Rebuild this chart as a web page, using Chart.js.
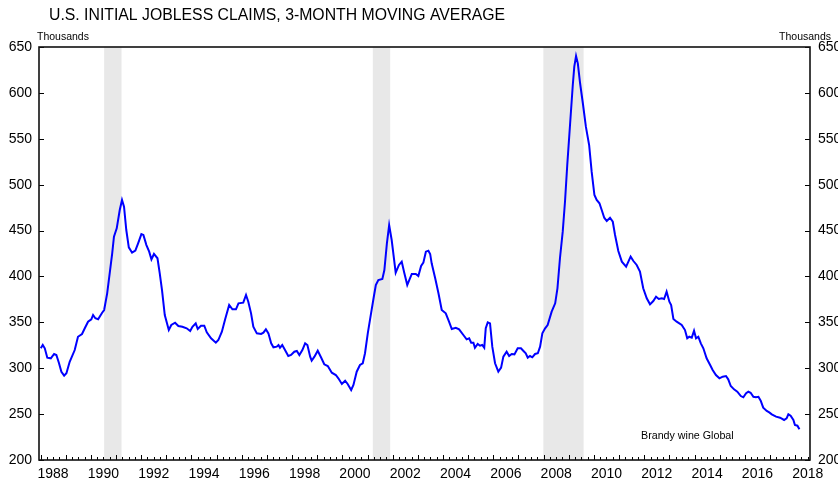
<!DOCTYPE html>
<html>
<head>
<meta charset="utf-8">
<script src="https://cdn.jsdelivr.net/npm/chart.js@4.4.0/dist/chart.umd.min.js"></script>
<style>
  html, body { margin: 0; padding: 0; background: #fff; }
  canvas { display: block; }
</style>
</head>
<body>
<canvas id="claimsChart" width="838" height="483"></canvas>
<script>
// 3-month moving average of initial claims, thousands (decimal year, value)
var dates = [
  1988.01,1988.09,1988.17,1988.27,1988.41,1988.54,1988.63,1988.73,1988.83,1988.94,1989.03,1989.16,1989.36,1989.49,1989.65,1989.76,1989.89,1990.02,1990.09,1990.18,1990.29,1990.45,1990.53,1990.65,1990.75,1990.85,1990.92,1991.03,1991.15,1991.24,1991.32,1991.41,1991.51,1991.64,1991.77,1991.88,1992.01,1992.09,1992.21,1992.32,1992.41,1992.51,1992.65,1992.74,1992.83,1992.94,1993.10,1993.20,
  1993.35,1993.48,1993.64,1993.81,1993.95,1994.04,1994.17,1994.25,1994.38,1994.51,1994.61,1994.78,1994.97,1995.07,1995.21,1995.34,1995.50,1995.63,1995.77,1995.87,1996.06,1996.17,1996.26,1996.37,1996.46,1996.60,1996.77,1996.86,1996.96,1997.06,1997.17,1997.26,1997.39,1997.46,1997.52,1997.61,1997.72,1997.85,1997.96,1998.09,1998.19,1998.29,
  1998.41,1998.52,1998.61,1998.72,1998.78,1998.89,1999.02,1999.15,1999.28,1999.42,1999.58,1999.74,1999.84,1999.98,2000.11,2000.21,2000.35,2000.44,2000.57,2000.70,2000.81,2000.90,2001.01,2001.14,2001.25,2001.33,2001.43,2001.59,2001.67,2001.77,2001.86,2001.96,2002.12,2002.25,2002.36,2002.46,2002.58,2002.76,2002.92,2003.02,2003.13,2003.22,2003.32,2003.42,2003.49,
  2003.55,2003.69,2003.82,2003.95,2004.11,2004.24,2004.35,2004.51,2004.64,2004.81,2004.94,2005.04,2005.12,2005.21,2005.27,2005.38,2005.47,2005.56,2005.64,2005.70,2005.78,2005.87,2005.96,2006.07,2006.20,2006.31,2006.40,2006.53,2006.63,2006.73,2006.84,2006.97,2007.10,2007.19,2007.29,2007.37,2007.46,2007.55,2007.66,2007.77,2007.86,2007.95,2008.06,2008.16,
  2008.32,2008.46,2008.55,2008.65,2008.76,2008.85,2008.94,2009.05,2009.16,2009.22,2009.29,2009.36,2009.45,2009.56,2009.68,2009.81,2009.91,2010.02,2010.11,2010.22,2010.31,2010.41,2010.51,2010.64,2010.75,2010.84,2010.97,2011.11,2011.28,2011.37,2011.46,2011.57,2011.70,2011.83,2011.96,2012.10,2012.23,2012.36,2012.47,2012.58,2012.70,2012.79,2012.89,2013.00,2013.07,2013.16,
  2013.29,2013.49,2013.62,2013.71,2013.79,2013.89,2013.98,2014.06,2014.15,2014.25,2014.35,2014.48,2014.62,2014.72,2014.85,2014.99,2015.12,2015.25,2015.34,2015.44,2015.57,2015.70,2015.84,2015.94,2016.05,2016.14,2016.23,2016.34,2016.44,2016.54,2016.63,2016.73,2016.87,2016.97,2017.07,2017.24,2017.40,2017.56,2017.66,2017.73,2017.82,2017.93,2017.99,2018.09,2018.17
];
var claims = [
  321.7,325.3,321.7,311.5,310.8,315.5,314.4,306,296.2,291.9,294.5,307,319.8,334.3,337.3,343.5,350.7,353.3,358,354.4,353.3,360.5,363.4,381.6,403.4,425.2,443.3,452.4,472.4,483.3,476,450.6,431.7,425.9,428.1,436.1,446.2,445.2,434.2,427,418.6,424.5,419.8,403.4,385.2,358,341.6,347.1,
  349.6,346,345.2,343.5,340.6,345.2,348.9,342.7,346.3,346.3,339.1,332.6,327.8,330.7,339.8,353.3,368.9,364.2,364.2,370.7,371.4,379.8,372.5,359.8,345.2,338,337.3,338.7,342.4,338,327.1,322.8,323.5,325.3,322.3,325.3,319.8,313.3,314.4,318,318.8,314.4,
  319.8,327.1,325.3,312.6,308.2,312.6,319.1,311.9,304.3,302.4,295.1,292.6,289,282.8,286.4,282.8,276.3,281.7,296.2,303.5,305.4,316.3,338,359.8,377.9,390.7,396.1,397.2,407,436.1,455.9,439.7,404.1,412.5,416.1,404.1,390.7,402.7,402.7,400.5,411.4,415,427,428.1,424.5,
  414.3,398,381.6,363.4,359.8,350.7,342.7,344.1,342.4,336.2,331.5,332.6,327.8,327.8,322.3,326.4,324.5,325.3,322.3,343.5,350,348.9,323.5,305.4,296.2,300.6,312.6,318,313.3,315.5,315.1,321.7,321.7,319.1,316.3,311.5,313.3,311.9,315.5,316.3,323.5,338,343.5,347.1,
  361.6,370.7,387.1,419.8,448.8,481.4,521.4,565,608.6,628.6,640.2,632.2,610.5,588.7,563.2,543.2,514.2,488.7,483.3,479.7,472.4,464,460.4,464,459.6,445.2,427.7,416.1,410.7,416.1,421.6,416.8,412.5,405.2,387.1,376.2,369.6,373.2,377.9,375.4,376.2,375.4,383.4,372.5,368.9,353.6,
  350.7,347.1,341.6,332.6,334.3,333.3,340.9,332.6,334.3,327.1,321.7,310.8,303.5,298.1,292.6,289,290.8,291.5,287.9,280.6,277,274.4,269.7,268.3,272.7,274.4,273.3,268.9,268.3,268.9,264.6,257,253.4,251.9,249.8,247.2,246.1,243.6,245.4,249.8,248.3,243.6,238.1,237.4,233.5
];

// recession bands (decimal years)
var recessionStart = [1990.53, 2001.21, 2007.99];
var recessionEnd = [1991.22, 2001.90, 2009.59];

// labelled years (label sits mid-year)
var tickYears = [1988,1990,1992,1994,1996,1998,2000,2002,2004,2006,2008,2010,2012,2014,2016,2018];
var yTicks = [200,250,300,350,400,450,500,550,600,650];

var FONT = "'Liberation Sans', Arial, sans-serif";

var frame = {
  id: 'frame',
  beforeDatasetsDraw: function(chart) {
    var ctx = chart.ctx, a = chart.chartArea, x = chart.scales.x;
    ctx.save();
    ctx.fillStyle = '#e8e8e8';
    recessionStart.forEach(function(s, i) {
      var x0 = x.getPixelForValue(s), x1 = x.getPixelForValue(recessionEnd[i]);
      ctx.fillRect(x0, a.top, x1 - x0, a.bottom - a.top);
    });
    ctx.restore();
  },
  afterDatasetsDraw: function(chart) {
    var ctx = chart.ctx, a = chart.chartArea, x = chart.scales.x, y = chart.scales.y;
    ctx.save();
    ctx.strokeStyle = '#000';
    ctx.lineWidth = 1;
    ctx.beginPath();
    // quarterly ticks on the time axis, taller at year start
    for (var yr = 1987; yr <= 2019; yr++) {
      for (var q = 0; q < 4; q++) {
        var t = yr + q / 4;
        if (t <= x.min || t >= x.max) continue;
        var px = Math.round(x.getPixelForValue(t)) + 0.5;
        ctx.moveTo(px, a.bottom);
        ctx.lineTo(px, a.bottom - (q === 0 ? 5 : 3));
      }
    }
    yTicks.forEach(function(v) {
      var py = Math.round(y.getPixelForValue(v)) + 0.5;
      ctx.moveTo(a.left, py); ctx.lineTo(a.left + 5, py);
      ctx.moveTo(a.right - 5, py); ctx.lineTo(a.right, py);
    });
    ctx.stroke();
    ctx.lineWidth = 1.6;
    ctx.strokeStyle = '#111';
    ctx.strokeRect(a.left, a.top, a.right - a.left, a.bottom - a.top);
    ctx.restore();
  },
  afterDraw: function(chart) {
    var ctx = chart.ctx, a = chart.chartArea;
    ctx.save();
    ctx.fillStyle = '#000';
    ctx.textBaseline = 'middle';
    ctx.font = '15.8px ' + FONT;
    ctx.textAlign = 'left';
    ctx.fillText('U.S. INITIAL JOBLESS CLAIMS, 3-MONTH MOVING AVERAGE', a.left + 10, 16);
    ctx.font = '10.5px ' + FONT;
    ctx.fillText('Thousands', a.left - 2, a.top - 10);
    ctx.textAlign = 'right';
    ctx.fillText('Thousands', a.right + 21, a.top - 10);
    ctx.textAlign = 'left';
    ctx.font = '10.7px ' + FONT;
    ctx.fillText('Brandy wine Global', a.right - 169, a.bottom - 24);
    ctx.restore();
  }
};

var ctx = document.getElementById('claimsChart').getContext('2d');
var myChart = new Chart(ctx, {
  type: 'line',
  data: {
    datasets: [{
      label: 'Initial claims',
      data: dates.map(function(d, i) { return { x: d, y: claims[i] }; }),
      borderColor: '#0000ff',
      borderWidth: 2,
      pointRadius: 0,
      tension: 0,
      fill: false,
      yAxisID: 'y'
    }]
  },
  options: {
    responsive: false,
    animation: false,
    layout: { padding: { top: 47, left: 0, right: 0, bottom: 0 } },
    plugins: {
      legend: { display: false },
      tooltip: { enabled: false }
    },
    scales: {
      x: {
        type: 'linear',
        min: 1987.94,
        max: 2018.59,
        grid: { display: false, drawTicks: false },
        border: { display: false },
        afterBuildTicks: function(s) {
          s.ticks = tickYears.map(function(v) { return { value: v + 0.5 }; });
        },
        afterFit: function(s) { s.height = 23; },
        ticks: {
          autoSkip: false,
          maxRotation: 0,
          padding: 6,
          color: '#000',
          font: { family: FONT, size: 14 },
          callback: function(v) { return Math.floor(v); }
        }
      },
      y: {
        position: 'left',
        min: 200,
        max: 650,
        grid: { display: false, drawTicks: false },
        border: { display: false },
        afterFit: function(s) { s.width = 39; },
        ticks: { stepSize: 50, padding: 7, color: '#000', font: { family: FONT, size: 14 } }
      },
      y2: {
        position: 'right',
        min: 200,
        max: 650,
        grid: { display: false, drawTicks: false },
        border: { display: false },
        afterFit: function(s) { s.width = 28; },
        ticks: { stepSize: 50, padding: 8, color: '#000', font: { family: FONT, size: 14 } }
      }
    }
  },
  plugins: [frame]
});
</script>
</body>
</html>
